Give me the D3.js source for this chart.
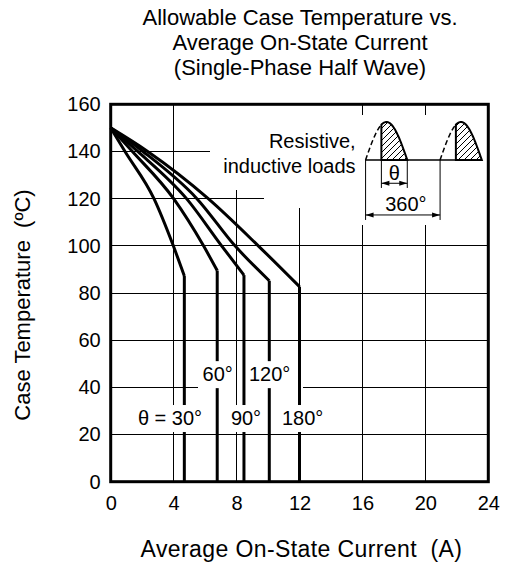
<!DOCTYPE html>
<html>
<head>
<meta charset="utf-8">
<script src="https://cdn.jsdelivr.net/npm/d3@7"></script>
<style>
  body { margin: 0; background: #fff; }
  text { font-family: "Liberation Sans", Arial, sans-serif; fill: #000; }
</style>
</head>
<body>
<svg id="chart" width="508" height="570"></svg>
<script>
// ---- data ----
const xTicks = [0, 4, 8, 12, 16, 20, 24];
const yTicks = [0, 20, 40, 60, 80, 100, 120, 140, 160];
const titleLines = ["Allowable Case Temperature vs.", "Average On-State Current", "(Single-Phase Half Wave)"];
const angleNames = ["θ = 30°", "60°", "90°", "120°", "180°"];

// [current A, case temp °C]; last point is where the curve turns straight down
const curve30 = [[0, 150], [0.91, 140], [2.75, 120], [3.98, 100], [4.68, 87.2]];
const curve60 = [[0, 150], [1.38, 140], [4.0, 120], [5.9, 100], [6.77, 89.5]];
const curve90 = [[0, 150], [1.72, 140], [4.82, 120], [7.05, 100], [8.47, 87.6]];
const curve120 = [[0, 150], [2.05, 140], [5.48, 120], [7.9, 100], [10.08, 85.2]];
const curve180 = [[0, 150], [2.35, 140], [6.2, 120], [9.38, 100], [12.0, 82.7]];
const curves = [curve30, curve60, curve90, curve120, curve180];

// ---- layout ----
const svg = d3.select("#chart");
const plotL = 110.7, plotR = 488.3, plotT = 104.3, plotB = 481.7;

let x = d3.scaleLinear().domain([0, 24]).range([plotL, plotR]);
let y = d3.scaleLinear().domain([0, 160]).range([plotB, plotT]);

// gridlines, some cut short where text / the inset sits
let hGrid = [
  [20, 0, 24], [60, 0, 24], [80, 0, 24], [100, 0, 24],
  [40, 0, x.invert(198)], [40, x.invert(303), 24],
  [120, 0, x.invert(264)], [140, 0, x.invert(210)]
];
let vGrid = [
  [4, 0, 160], [8, 0, y.invert(190)], [12, 0, y.invert(208.3)],
  [16, 0, y.invert(225)], [16, y.invert(115), 160],
  [20, 0, y.invert(225)], [20, y.invert(115), 160]
];

let grid = svg.append("g")
  .attr("stroke", "#000")
  .attr("stroke-width", 1)
  .attr("shape-rendering", "crispEdges");

grid.selectAll(".h").data(hGrid).enter().append("line")
  .attr("x1", (d) => x(d[1])).attr("x2", (d) => x(d[2]))
  .attr("y1", (d) => y(d[0])).attr("y2", (d) => y(d[0]));

grid.selectAll(".v").data(vGrid).enter().append("line")
  .attr("x1", (d) => x(d[0])).attr("x2", (d) => x(d[0]))
  .attr("y1", (d) => y(d[1])).attr("y2", (d) => y(d[2]));

// curves: smooth part then the vertical drop to 0
let line = d3.line()
  .x((d) => x(d[0]))
  .y((d) => y(d[1]))
  .curve(d3.curveMonotoneX);

let curveG = svg.append("g")
  .attr("fill", "none")
  .attr("stroke", "#000")
  .attr("stroke-width", 3)
  .attr("stroke-linejoin", "round");

curves.forEach((c) => {
  let end = c[c.length - 1];
  curveG.append("path").attr("d", line(c));
  curveG.append("line")
    .attr("x1", x(end[0])).attr("x2", x(end[0]))
    .attr("y1", y(end[1])).attr("y2", y(0));
});

// angle labels sit on white boxes that hide the lines behind them
let labelPos = [[3.77, 27], [6.8, 45.6], [8.6, 27], [10.1, 45.6], [12.2, 27]];
let labels = svg.append("g");
angleNames.forEach((name, i) => {
  let t = labels.append("text")
    .attr("x", x(labelPos[i][0]))
    .attr("y", y(labelPos[i][1]))
    .attr("dy", "0.36em")
    .attr("text-anchor", "middle")
    .attr("font-size", 20)
    .text(name);
  let b = t.node().getBBox();
  labels.insert("rect", "text")
    .attr("x", b.x - 1).attr("y", y(labelPos[i][1]) - 13)
    .attr("width", b.width + 2).attr("height", 27)
    .attr("fill", "#fff");
});

// frame
svg.append("rect")
  .attr("x", plotL).attr("y", plotT)
  .attr("width", plotR - plotL).attr("height", plotB - plotT)
  .attr("fill", "none").attr("stroke", "#000").attr("stroke-width", 3);

// axes (labels only, the grid does the ticks)
let xAxis = svg.append("g")
  .attr("transform", "translate(0," + plotB + ")")
  .call(d3.axisBottom(x).tickValues(xTicks).tickSize(0).tickPadding(14));
let yAxis = svg.append("g")
  .attr("transform", "translate(" + plotL + ",0)")
  .call(d3.axisLeft(y).tickValues(yTicks).tickSize(0).tickPadding(10));

[xAxis, yAxis].forEach((a) => {
  a.select(".domain").remove();
  a.selectAll("text")
    .attr("font-size", 20)
    .attr("font-family", "Liberation Sans, Arial, sans-serif")
    .attr("fill", "#000");
});

// titles
svg.append("g").selectAll("text").data(titleLines).enter().append("text")
  .attr("x", 300)
  .attr("y", (d, i) => 25 + i * 25)
  .attr("text-anchor", "middle")
  .attr("font-size", 22)
  .text((d) => d);

svg.append("text")
  .attr("x", (plotL + plotR) / 2 + 2)
  .attr("y", 557)
  .attr("text-anchor", "middle")
  .attr("font-size", 23)
  .attr("letter-spacing", 0.4)
  .style("white-space", "pre")
  .text("Average On-State Current  (A)");

svg.append("text")
  .attr("transform", "translate(30," + 305 + ") rotate(-90)")
  .attr("text-anchor", "middle")
  .attr("font-size", 22)
  .style("white-space", "pre")
  .text("Case Temperature  (ºC)");

// ---- inset: resistive/inductive load waveform ----
let ix = x(16.2), iy = y(136.4);
let humpW = 41.7, humpH = 38, period = 74.5, hatchOff = 15.8;

let defs = svg.append("defs");
defs.append("pattern")
  .attr("id", "hatch")
  .attr("patternUnits", "userSpaceOnUse")
  .attr("width", 6).attr("height", 6)
  .append("path")
  .attr("d", "M-1,1 l2,-2 M0,6 l6,-6 M5,7 l2,-2")
  .attr("stroke", "#000").attr("stroke-width", 1);

let inset = svg.append("g");

let humpPts = (x0, t0, t1) => d3.range(0, 41).map((k) => {
  let t = t0 + (t1 - t0) * k / 40;
  return [x0 + t * humpW, iy - humpH * Math.sin(Math.PI * t)];
});

let ts = hatchOff / humpW;
[0, period].forEach((off) => {
  let x0 = ix + off;
  inset.append("path")
    .attr("d", d3.line()(humpPts(x0, 0, ts)))
    .attr("fill", "none").attr("stroke", "#000").attr("stroke-width", 1.5)
    .attr("stroke-dasharray", "5,3");
  let solid = humpPts(x0, ts, 1);
  inset.append("path")
    .attr("d", d3.line()([[x0 + hatchOff, iy]].concat(solid)) + "Z")
    .attr("fill", "url(#hatch)").attr("stroke", "#000").attr("stroke-width", 2);
});

inset.append("line")
  .attr("x1", ix).attr("x2", ix + period + humpW)
  .attr("y1", iy).attr("y2", iy)
  .attr("stroke", "#000").attr("stroke-width", 1.5);

let dim = (xa, xb, yExt, yArr) => {
  inset.append("line").attr("x1", xa).attr("x2", xa).attr("y1", iy).attr("y2", yExt)
    .attr("stroke", "#000").attr("stroke-width", 1);
  inset.append("line").attr("x1", xb).attr("x2", xb).attr("y1", iy).attr("y2", yExt)
    .attr("stroke", "#000").attr("stroke-width", 1);
  inset.append("line").attr("x1", xa).attr("x2", xb).attr("y1", yArr).attr("y2", yArr)
    .attr("stroke", "#000").attr("stroke-width", 1);
  inset.append("path")
    .attr("d", "M" + xa + "," + yArr + "l8,-2.5v5z M" + xb + "," + yArr + "l-8,-2.5v5z")
    .attr("fill", "#000");
};
dim(ix + hatchOff, ix + humpW, iy + 28, iy + 23.3);
dim(ix, ix + period, iy + 60, iy + 55);

inset.append("text")
  .attr("x", ix + hatchOff + (humpW - hatchOff) / 2)
  .attr("y", iy + 20)
  .attr("text-anchor", "middle")
  .attr("font-size", 20)
  .text("θ");
inset.append("text")
  .attr("x", ix + period / 2 + 3)
  .attr("y", iy + 51.5)
  .attr("text-anchor", "middle")
  .attr("font-size", 20)
  .text("360°");
inset.append("text")
  .attr("x", ix - 10).attr("y", iy - 12)
  .attr("text-anchor", "end")
  .attr("font-size", 20)
  .text("Resistive,");
inset.append("text")
  .attr("x", ix - 10).attr("y", iy + 13)
  .attr("text-anchor", "end")
  .attr("font-size", 20)
  .text("inductive loads");
</script>
</body>
</html>
